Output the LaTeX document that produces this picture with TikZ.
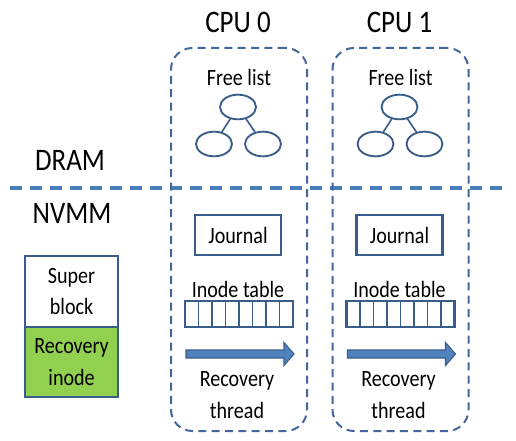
\documentclass[tikz,border=0pt]{standalone}
\usepackage{fontspec}
\setmainfont{Carlito}[FakeStretch=0.86]
\usetikzlibrary{shapes.geometric}
\definecolor{boxline}{HTML}{44679B}
\definecolor{hline}{HTML}{4A7EBB}
\definecolor{arrowfill}{HTML}{4F81BD}
\definecolor{arrowline}{HTML}{385D8A}
\definecolor{greenfill}{HTML}{92D050}
\tikzset{
  bigtext/.style={inner sep=0pt, font=\fontsize{23.5}{28}\selectfont},
  smalltext/.style={inner sep=0pt, align=center, font=\fontsize{17.5}{23.5}\selectfont},
  cpubox/.style={draw=boxline, line width=1.5pt, dash pattern=on 6pt off 4pt, rounded corners=16pt},
  solidbox/.style={draw=arrowline, line width=1.6pt},
  treenode/.style={ellipse, draw=arrowline, line width=1.4pt, minimum width=27pt, minimum height=18.5pt, inner sep=0pt},
  treeedge/.style={draw=arrowline, line width=1.2pt},
  sepline/.style={draw=hline, line width=2.4pt, dash pattern=on 9pt off 6pt},
}
\begin{document}
\begin{tikzpicture}[x=0.75pt, y=-0.75pt]
\useasboundingbox (0,0) rectangle (516,441);
% separator
\coordinate (sepL) at (10,188);
\coordinate (sepR) at (506,188);
\draw[sepline] (sepL) -- (sepR);
% left labels
\node[bigtext] (dram) at (70,160) {DRAM};
\node[bigtext] (nvmm) at (72,213) {NVMM};
% super block
\node[solidbox, fill=white, minimum width=69.75pt, minimum height=53.25pt, inner sep=0pt, anchor=north west] (super) at (24,255) {};
\node[solidbox, fill=greenfill, minimum width=69.75pt, minimum height=52.5pt, inner sep=0pt, anchor=north west] (recov) at (24,326) {};
\node[smalltext] (supert) at (super.center) {Super\\block};
\node[smalltext] (recovt) at (recov.center) {Recovery\\inode};
% CPU columns
\foreach \dx/\n in {0/0, 161.5/1} {
  \begin{scope}[shift={(\dx,0)}]
    \node[cpubox, minimum width=102pt, minimum height=287.25pt, anchor=north west] (cpu\n box) at (170,47) {};
    \node[bigtext] (cpu\n) at (238,22) {CPU \n};
    \node[smalltext] (free\n) at (239,77) {Free list};
    \node[treenode] (top\n) at (238,107) {};
    \node[treenode] (left\n) at (214,144) {};
    \node[treenode] (right\n) at (263,144) {};
    \draw[treeedge] (top\n) -- (left\n);
    \draw[treeedge] (top\n) -- (right\n);
    \node[solidbox, minimum width=64.5pt, minimum height=30pt, inner sep=0pt] (journal\n) at (238,235) {};
    \node[smalltext] (journalt\n) at (journal\n.center) {Journal};
    \node[smalltext] (inodet\n) at (238,289) {Inode table};
    \node[solidbox, minimum width=81pt, minimum height=19.5pt, inner sep=0pt] (table\n) at (239,314) {};
    \foreach \k in {1,...,7} {
      \draw[draw=arrowline, line width=1.4pt] (185+13.5*\k,301) -- (185+13.5*\k,327);
    }
    \filldraw[fill=arrowfill, draw=arrowline, line width=0.8pt]
      (186,350) -- (284,350) -- (284,342.5) -- (294,354) -- (284,365.5) -- (284,358) -- (186,358) -- cycle;
    \node[smalltext] (recth\n) at (237,395) {Recovery\\thread};
  \end{scope}
}
\end{tikzpicture}
\end{document}
